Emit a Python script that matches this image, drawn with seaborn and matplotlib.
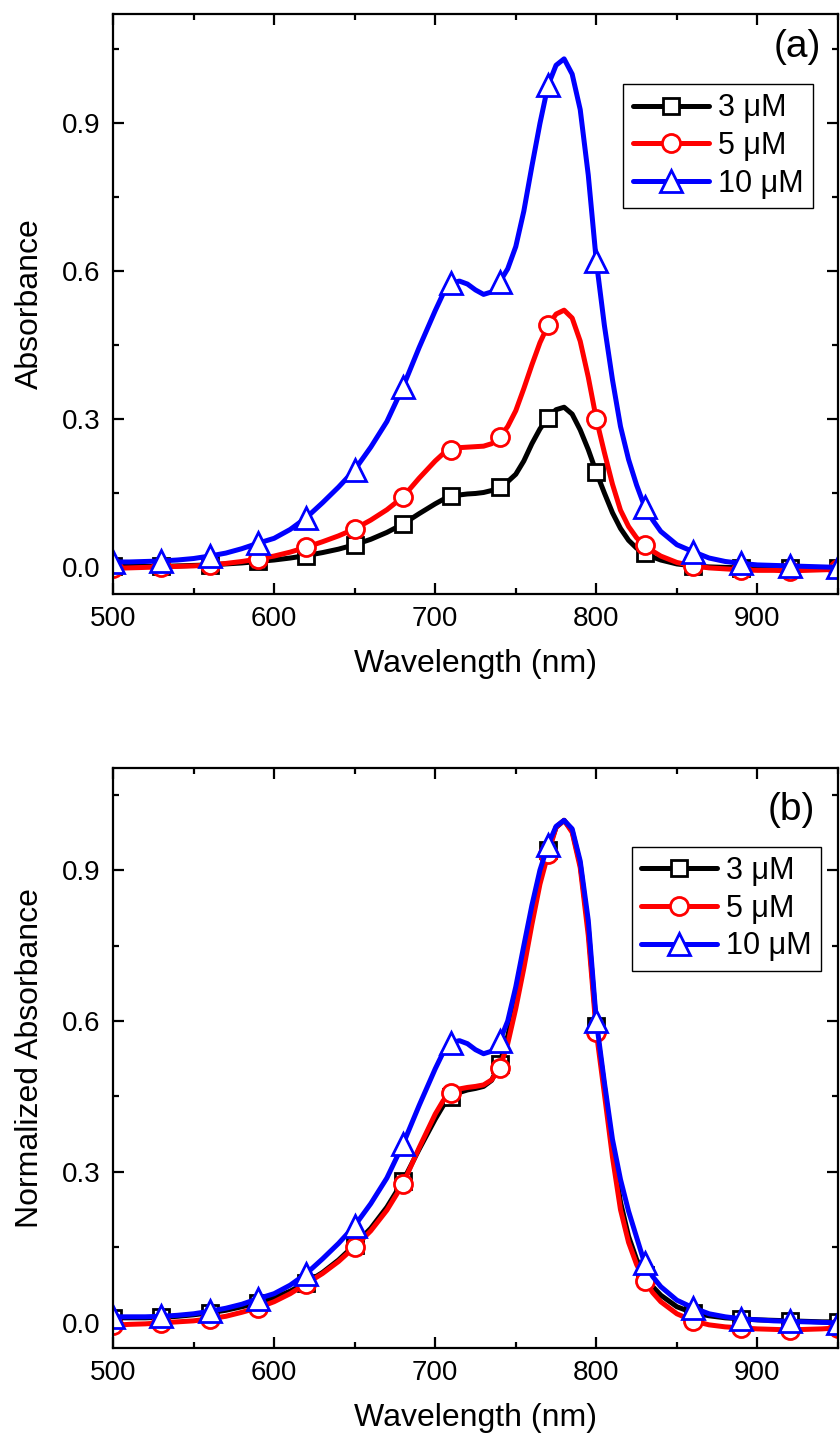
import numpy as np
import matplotlib
matplotlib.use("Agg")
import matplotlib.pyplot as plt
from matplotlib.ticker import MultipleLocator, FormatStrFormatter
import seaborn as sns

# ---------------- data ----------------
wavelength = [500, 510, 520, 530, 540, 550, 560, 570, 580, 590, 600, 610, 620, 630, 640,
              650, 660, 670, 680, 690, 700, 705, 710, 715, 720, 725, 730, 735, 740, 745,
              750, 755, 760, 765, 770, 775, 780, 785, 790, 795, 800, 805, 810, 815, 820,
              825, 830, 835, 840, 850, 860, 870, 880, 890, 900, 910, 920, 930, 940, 950]

labels = ["3 \u03bcM", "5 \u03bcM", "10 \u03bcM"]

# panel (a): absorbance
abs_3uM = [0.001, 0.001, 0.001, 0.001, 0.002, 0.003, 0.004, 0.006, 0.008, 0.011, 0.014, 0.018, 0.023, 0.029, 0.036,
           0.045, 0.056, 0.070, 0.087, 0.108, 0.128, 0.137, 0.143, 0.146, 0.148, 0.149, 0.151, 0.155, 0.163, 0.173,
           0.188, 0.215, 0.250, 0.280, 0.303, 0.319, 0.324, 0.310, 0.278, 0.238, 0.192, 0.150, 0.110, 0.078, 0.054,
           0.038, 0.028, 0.020, 0.014, 0.006, 0.002, 0.000, -0.001, -0.002, -0.002, -0.003, -0.003, -0.003, -0.003, -0.003]
abs_5uM = [-0.003, -0.002, -0.001, 0.000, 0.001, 0.002, 0.004, 0.007, 0.011, 0.016, 0.022, 0.030, 0.040, 0.051, 0.063,
           0.077, 0.095, 0.116, 0.142, 0.180, 0.215, 0.230, 0.238, 0.242, 0.243, 0.244, 0.245, 0.250, 0.263, 0.285,
           0.317, 0.362, 0.410, 0.455, 0.490, 0.513, 0.521, 0.505, 0.458, 0.385, 0.300, 0.232, 0.168, 0.115, 0.082,
           0.059, 0.044, 0.032, 0.022, 0.009, 0.002, -0.002, -0.004, -0.006, -0.007, -0.007, -0.008, -0.007, -0.006, -0.005]
abs_10uM = [0.010, 0.010, 0.011, 0.012, 0.014, 0.017, 0.022, 0.028, 0.037, 0.048, 0.058, 0.076, 0.100, 0.130, 0.162,
            0.197, 0.243, 0.295, 0.365, 0.445, 0.520, 0.555, 0.576, 0.580, 0.574, 0.562, 0.553, 0.558, 0.578, 0.605,
            0.650, 0.722, 0.813, 0.900, 0.977, 1.018, 1.031, 1.000, 0.928, 0.795, 0.620, 0.490, 0.380, 0.285, 0.218,
            0.166, 0.122, 0.095, 0.072, 0.045, 0.031, 0.018, 0.011, 0.007, 0.004, 0.003, 0.002, 0.001, 0.000, -0.001]

# panel (b): normalized absorbance
norm_3uM = [0.010, 0.010, 0.010, 0.011, 0.013, 0.016, 0.020, 0.025, 0.032, 0.040, 0.050, 0.063, 0.080, 0.100, 0.125,
            0.155, 0.188, 0.230, 0.282, 0.345, 0.405, 0.432, 0.448, 0.458, 0.463, 0.466, 0.470, 0.482, 0.515, 0.570,
            0.640, 0.720, 0.805, 0.880, 0.940, 0.985, 0.999, 0.978, 0.912, 0.785, 0.590, 0.470, 0.345, 0.240, 0.172,
            0.126, 0.095, 0.072, 0.055, 0.032, 0.020, 0.014, 0.010, 0.008, 0.006, 0.005, 0.004, 0.003, 0.002, 0.002]
norm_5uM = [-0.005, -0.003, -0.002, 0.000, 0.002, 0.004, 0.008, 0.013, 0.021, 0.030, 0.042, 0.058, 0.078, 0.098, 0.122,
            0.151, 0.183, 0.224, 0.276, 0.348, 0.415, 0.442, 0.457, 0.465, 0.468, 0.470, 0.473, 0.483, 0.506, 0.555,
            0.625, 0.705, 0.792, 0.872, 0.932, 0.985, 0.999, 0.975, 0.905, 0.770, 0.578, 0.455, 0.330, 0.225, 0.160,
            0.116, 0.084, 0.060, 0.042, 0.018, 0.004, -0.004, -0.008, -0.010, -0.012, -0.013, -0.014, -0.013, -0.012, -0.010]
norm_10uM = [0.012, 0.012, 0.012, 0.013, 0.015, 0.018, 0.023, 0.029, 0.037, 0.048, 0.058, 0.075, 0.098, 0.127, 0.158,
             0.193, 0.237, 0.288, 0.355, 0.432, 0.505, 0.538, 0.557, 0.561, 0.555, 0.543, 0.535, 0.540, 0.560, 0.600,
             0.668, 0.750, 0.830, 0.900, 0.950, 0.987, 0.999, 0.982, 0.918, 0.800, 0.600, 0.478, 0.365, 0.285, 0.222,
             0.170, 0.118, 0.092, 0.072, 0.045, 0.030, 0.018, 0.012, 0.008, 0.006, 0.004, 0.003, 0.002, 0.001, 0.000]

colors = ["#000000", "#ff0000", "#0000ff"]
markers = ["s", "o", "^"]
msizes = [11.5, 13, 15.5]

# ---------------- style ----------------
sns.set_theme(style="ticks")
plt.rcParams["font.family"] = ["Liberation Sans", "DejaVu Sans"]
plt.rcParams.update({
    "text.color": "black", "axes.labelcolor": "black",
    "xtick.color": "black", "ytick.color": "black",
    "axes.edgecolor": "black", "axes.linewidth": 1.6,
})

fig = plt.figure(figsize=(8.4, 14.37), dpi=100)

mark_idx = [i for i, w in enumerate(wavelength) if (w - 500) % 30 == 0]

panels = [
    dict(rect=[113 / 840, 1 - 594 / 1437, 725 / 840, 580 / 1437],
         series=[abs_3uM, abs_5uM, abs_10uM], ylabel="Absorbance", ylim=(-0.055, 1.122),
         tag="(a)", tagpos=(0.977, 0.943), leg=(0.9655, 0.879)),
    dict(rect=[113 / 840, 1 - 1348 / 1437, 725 / 840, 580 / 1437],
         series=[norm_3uM, norm_5uM, norm_10uM], ylabel="Normalized Absorbance", ylim=(-0.05, 1.103),
         tag="(b)", tagpos=(0.968, 0.928), leg=(0.9766, 0.8638)),
]

for p in panels:
    ax = fig.add_axes(p["rect"])
    for vals, lab, c, m, ms in zip(p["series"], labels, colors, markers, msizes):
        sns.lineplot(x=wavelength, y=vals, ax=ax, color=c, linewidth=3.6, label=lab,
                     marker=m, markersize=ms, markevery=mark_idx,
                     markerfacecolor="white", markeredgecolor=c, markeredgewidth=2.0,
                     sort=False, errorbar=None)
    ax.set_xlim(500, 950)
    ax.set_ylim(*p["ylim"])
    ax.xaxis.set_major_locator(MultipleLocator(100))
    ax.xaxis.set_minor_locator(MultipleLocator(50))
    ax.yaxis.set_major_locator(MultipleLocator(0.3))
    ax.yaxis.set_minor_locator(MultipleLocator(0.15))
    ax.yaxis.set_major_formatter(FormatStrFormatter("%.1f"))
    ax.tick_params(which="both", direction="in", top=True, right=True, width=1.6, colors="black")
    ax.tick_params(which="major", length=8, labelsize=20, pad=9)
    ax.tick_params(which="minor", length=4.5)
    for s in ax.spines.values():
        s.set_visible(True)
        s.set_color("black")
        s.set_linewidth(1.6)
    ax.set_xlabel("Wavelength (nm)", fontsize=23, labelpad=12, color="black")
    ax.set_ylabel(p["ylabel"], fontsize=23, labelpad=12, color="black")
    ax.text(p["tagpos"][0], p["tagpos"][1], p["tag"], transform=ax.transAxes,
            ha="right", va="center", fontsize=28, color="black")
    leg = ax.legend(loc="upper right", bbox_to_anchor=p["leg"], borderaxespad=0,
                    fontsize=22, frameon=True, fancybox=False, edgecolor="black",
                    framealpha=1, handlelength=2.5, handletextpad=0.3, labelspacing=0.25,
                    borderpad=0.3)
    leg.get_frame().set_linewidth(1.0)
    for t in leg.get_texts():
        t.set_color("black")

fig.savefig("out.png", dpi=100)
